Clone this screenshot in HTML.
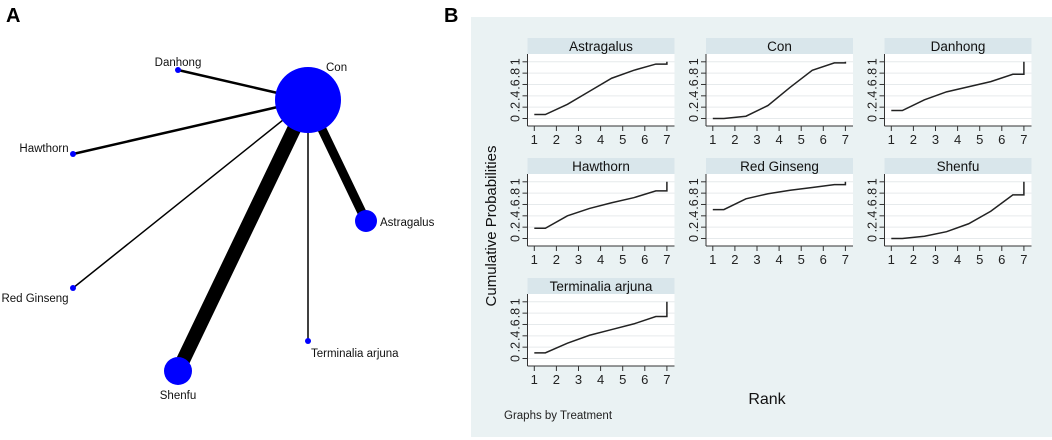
<!DOCTYPE html>
<html><head><meta charset="utf-8"><style>
body{margin:0;background:#fff;width:1052px;height:440px;overflow:hidden}
svg{display:block;font-family:"Liberation Sans",Arial,sans-serif}
</style></head><body>
<svg id="root" width="1052" height="440" viewBox="0 0 1052 440">
<text x="6" y="22" font-size="20" font-weight="bold">A</text>
<text x="444" y="22" font-size="20" font-weight="bold">B</text>
<g id="net"></g>
<rect x="471" y="17" width="581" height="420" fill="#eaf2f3"/>
<g id="facets"></g>
<text x="0" y="0" transform="translate(496,226) rotate(-90)" font-size="15" text-anchor="middle" fill="#111">Cumulative Probabilities</text>
<text x="767" y="404" font-size="16" text-anchor="middle" fill="#111">Rank</text>
<text x="504" y="419" font-size="11.5" fill="#222">Graphs by Treatment</text>
</svg>
<script>
const NS="http://www.w3.org/2000/svg";
function mk(t,a,p){const e=document.createElementNS(NS,t);for(const k in a)e.setAttribute(k,a[k]);p.appendChild(e);return e;}
// ---- network data ----
const nodeNames=["Con","Danhong","Hawthorn","Red Ginseng","Shenfu","Terminalia arjuna","Astragalus"];
const nodeX=[308,178,73,73,178,308,366];
const nodeY=[100,70,154,288,371,341,221];
const nodeR=[33,3,3,3,14,3,11];
const edgeTo=[1,2,3,4,5,6];
const edgeW=[2.5,2.5,1.5,14,1.5,9];
const labelX=[326,178,44,35,178,311,380];
const labelY=[71,66,152,302,399,357,226];
const labelAnchor=["start","middle","middle","middle","middle","start","start"];
const net=document.getElementById('net');
edgeTo.forEach((j,i)=>{
  const l=mk('line',{x1:nodeX[0],y1:nodeY[0],x2:nodeX[j],y2:nodeY[j],stroke:'#000','stroke-width':edgeW[i]},net);
  
  
});
nodeNames.forEach((n,i)=>{
  const c=mk('circle',{cx:nodeX[i],cy:nodeY[i],r:nodeR[i],fill:'#0000ff'},net);
  
  
  const t=mk('text',{x:labelX[i],y:labelY[i],'font-size':11.5,'text-anchor':labelAnchor[i],fill:'#111'},net);
  t.textContent=n;
  
  
});
// ---- rank data (cumulative probability at ranks 1..7) ----
const treatments=["Astragalus","Con","Danhong","Hawthorn","Red Ginseng","Shenfu","Terminalia arjuna"];
const astragalus=[0.07,0.25,0.48,0.71,0.85,0.96,1];
const con=[0.00,0.04,0.23,0.55,0.85,0.98,1];
const danhong=[0.14,0.33,0.47,0.56,0.65,0.78,1];
const hawthorn=[0.18,0.40,0.53,0.63,0.72,0.84,1];
const redGinseng=[0.51,0.70,0.79,0.85,0.90,0.95,1];
const shenfu=[0.00,0.04,0.12,0.26,0.48,0.77,1];
const terminalia=[0.10,0.27,0.41,0.51,0.61,0.74,1];
const series=[astragalus,con,danhong,hawthorn,redGinseng,shenfu,terminalia];
const xTicks=[1,2,3,4,5,6,7];
const yTicks=[0,0.2,0.4,0.6,0.8,1];
const yTickLabels=["0",".2",".4",".6",".8","1"];
const F=document.getElementById('facets');
treatments.forEach((name,k)=>{
  const col=k%3,row=Math.floor(k/3);
  const L=527.5+col*178.5,R=L+147,HT=38+row*120,HB=HT+16,AX=HB+72;
  const xs=v=>534.3+col*178.5+(v-1)*22.1;
  const ys=v=>118.5+row*120-v*56.7;
  const g=mk('g',{},F);
  
  
  const h=mk('rect',{x:L,y:HT,width:R-L,height:HB-HT,fill:'#d9e6eb'},g);
  
  
  const ht=mk('text',{x:(L+R)/2,y:HT+13,'font-size':13.5,'text-anchor':'middle',fill:'#111'},g);
  ht.textContent=name;
  
  
  const pa=mk('rect',{x:L,y:HB,width:R-L,height:AX-HB,fill:'#fff'},g);
  
  
  yTicks.forEach((v,i)=>{
    const gl=mk('line',{x1:L,x2:R,y1:ys(v),y2:ys(v),stroke:'#e6eaec','stroke-width':1},g);
    
    
    const tk=mk('line',{x1:L-5,x2:L,y1:ys(v),y2:ys(v),stroke:'#333','stroke-width':1},g);
    
    
    const tl=mk('text',{transform:`translate(${L-8},${ys(v)}) rotate(-90)`,'font-size':12.5,'text-anchor':'middle',fill:'#222'},g);
    tl.textContent=yTickLabels[i];
    
    
  });
  const ya=mk('line',{x1:L,x2:L,y1:HB,y2:AX,stroke:'#333','stroke-width':1},g);
  
  
  const xa=mk('line',{x1:L,x2:R,y1:AX,y2:AX,stroke:'#333','stroke-width':1},g);
  
  
  xTicks.forEach(v=>{
    const tk=mk('line',{x1:xs(v),x2:xs(v),y1:AX,y2:AX+5,stroke:'#333','stroke-width':1},g);
    
    
    const tl=mk('text',{x:xs(v),y:AX+18,'font-size':13,'text-anchor':'middle',fill:'#222'},g);
    tl.textContent=v;
    
    
  });
  const d=series[k];
  const pts=[[1,d[0]],[1.5,d[0]]];
  for(let i=1;i<6;i++)pts.push([i+1.5,d[i]]);
  pts.push([7,d[5]],[7,d[6]]);
  const p=mk('polyline',{points:pts.map(q=>xs(q[0])+','+ys(q[1])).join(' '),fill:'none',stroke:'#222','stroke-width':1.5},g);
  
  
});
</script>
</body></html>
